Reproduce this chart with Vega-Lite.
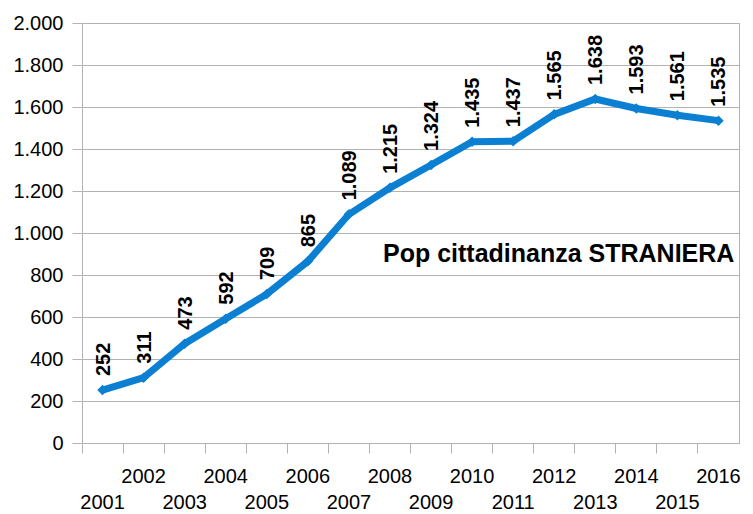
{
  "$schema": "https://vega.github.io/schema/vega-lite/v6.json",
  "width": 657,
  "height": 420,
  "autosize": "none",
  "padding": {"left": 82, "top": 23, "right": 14, "bottom": 71},
  "background": "white",
  "config": {
    "locale": {"number": {"decimal": ",", "thousands": ".", "grouping": [3], "currency": ["€", ""]}},
    "view": {"stroke": "#b3b3b3", "strokeWidth": 1},
    "font": "Liberation Sans"
  },
  "data": {
    "values": [
      {"year": "2001", "v": 252},
      {"year": "2002", "v": 311},
      {"year": "2003", "v": 473},
      {"year": "2004", "v": 592},
      {"year": "2005", "v": 709},
      {"year": "2006", "v": 865},
      {"year": "2007", "v": 1089},
      {"year": "2008", "v": 1215},
      {"year": "2009", "v": 1324},
      {"year": "2010", "v": 1435},
      {"year": "2011", "v": 1437},
      {"year": "2012", "v": 1565},
      {"year": "2013", "v": 1638},
      {"year": "2014", "v": 1593},
      {"year": "2015", "v": 1561},
      {"year": "2016", "v": 1535}
    ]
  },
  "encoding": {
    "x": {
      "field": "year", "type": "ordinal",
      "scale": {"type": "band", "paddingInner": 0, "paddingOuter": 0},
      "axis": {
        "title": null,
        "bandPosition": 0,
        "labelOffset": 0,
        "labelAngle": 0,
        "labelFont": "Liberation Sans",
        "labelFontSize": 20,
        "labelColor": "#000000",
        "labelBaseline": "top",
        "labelPadding": 13,
        "labelLineHeight": 26,
        "labelExpr": "toNumber(datum.label) % 2 == 0 ? [datum.label] : ['', datum.label]",
        "tickSize": 10,
        "tickColor": "#b3b3b3",
        "domainColor": "#b3b3b3",
        "grid": false,
        "labelOverlap": false
      }
    },
    "y": {
      "field": "v", "type": "quantitative",
      "scale": {"domain": [0, 2000], "nice": false},
      "axis": {
        "title": null,
        "values": [0, 200, 400, 600, 800, 1000, 1200, 1400, 1600, 1800, 2000],
        "format": ",d",
        "labelFont": "Liberation Sans",
        "labelFontSize": 20,
        "labelColor": "#000000",
        "labelPadding": 9,
        "tickSize": 10,
        "tickColor": "#b3b3b3",
        "domainColor": "#b3b3b3",
        "gridColor": "#b3b3b3",
        "grid": true
      }
    }
  },
  "layer": [
    {
      "mark": {"type": "line", "color": "#0b7fd1", "strokeWidth": 7, "strokeJoin": "miter"}
    },
    {
      "mark": {"type": "point", "shape": "diamond", "filled": true, "color": "#0b7fd1", "size": 110, "opacity": 1}
    },
    {
      "mark": {"type": "text", "angle": 270, "align": "left", "baseline": "middle", "dx": 14, "dy": 1, "font": "Liberation Sans", "fontWeight": "bold", "fontSize": 20, "color": "#000000"},
      "encoding": {"text": {"field": "v", "type": "quantitative", "format": ",d"}}
    },
    {
      "data": {"values": [{"year": "2008", "v": 862, "t": "Pop cittadinanza STRANIERA"}]},
      "mark": {"type": "text", "align": "left", "baseline": "alphabetic", "dx": -7, "font": "Liberation Sans", "fontWeight": "bold", "fontSize": 25, "color": "#000000"},
      "encoding": {"text": {"field": "t"}}
    }
  ]
}
